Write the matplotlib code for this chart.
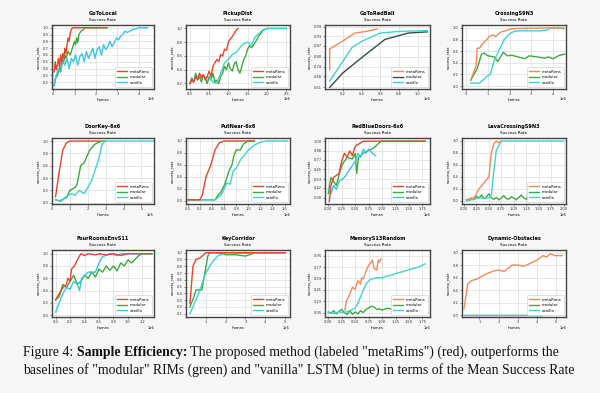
import matplotlib
matplotlib.use("Agg")
import matplotlib.pyplot as plt

# ---- data ----
titles = ["GoToLocal", "PickupDist", "GoToRedBall", "CrossingS9N3",
          "DoorKey-6x6", "PutNear-6x6", "RedBlueDoors-6x6", "LavaCrossingS9N3",
          "FourRoomsEnvS11", "KeyCorridor", "MemoryS13Random", "Dynamic-Obstacles"]
labels = ["metaRims", "modular", "vanilla"]

# GoToLocal
p1_meta_x = [0.05, 0.1, 0.15, 0.2, 0.25, 0.3, 0.35, 0.4, 0.45, 0.5, 0.55, 0.6, 0.65, 0.7, 0.75, 0.8, 0.85, 0.9, 1.0, 1.2, 1.5, 2.0, 2.5]
p1_meta_y = [0.35, 0.5, 0.38, 0.45, 0.55, 0.42, 0.6, 0.5, 0.62, 0.55, 0.7, 0.62, 0.75, 0.85, 0.8, 0.93, 0.97, 1.0, 1.0, 1.0, 1.0, 1.0, 1.0]
p1_mod_x = [0.05, 0.1, 0.2, 0.3, 0.35, 0.4, 0.5, 0.55, 0.6, 0.7, 0.8, 0.9, 1.0, 1.05, 1.1, 1.15, 1.2, 1.3, 1.4, 1.5, 1.7, 2.0, 2.5]
p1_mod_y = [0.15, 0.25, 0.3, 0.4, 0.35, 0.55, 0.5, 0.6, 0.55, 0.65, 0.6, 0.7, 0.8, 0.75, 0.85, 0.78, 0.9, 0.95, 0.97, 1.0, 1.0, 1.0, 1.0]
p1_van_x = [0.05, 0.15, 0.25, 0.35, 0.45, 0.55, 0.65, 0.75, 0.85, 0.95, 1.05, 1.15, 1.25, 1.35, 1.45, 1.55, 1.65, 1.75, 1.85, 1.95,
            2.05, 2.15, 2.25, 2.35, 2.45, 2.55, 2.65, 2.75, 2.85, 2.95, 3.05, 3.15, 3.25, 3.35, 3.45, 3.7, 4.0, 4.4]
p1_van_y = [0.15, 0.3, 0.4, 0.35, 0.5, 0.45, 0.55, 0.4, 0.55, 0.5, 0.6, 0.45, 0.58, 0.62, 0.5, 0.65, 0.55, 0.62, 0.7, 0.55,
            0.68, 0.72, 0.6, 0.75, 0.68, 0.72, 0.8, 0.72, 0.78, 0.85, 0.82, 0.88, 0.9, 0.95, 0.93, 0.97, 1.0, 1.0]

# PickupDist
p2_meta_x = [0.0, 0.05, 0.1, 0.15, 0.2, 0.25, 0.3, 0.35, 0.4, 0.45, 0.5, 0.55, 0.6, 0.65, 0.7, 0.75, 0.8, 0.85, 0.9, 0.95, 1.0, 1.05, 1.1, 1.15, 1.2, 1.25]
p2_meta_y = [0.2, 0.25, 0.22, 0.3, 0.26, 0.35, 0.28, 0.33, 0.25, 0.3, 0.38, 0.3, 0.45, 0.5, 0.55, 0.52, 0.62, 0.6, 0.7, 0.68, 0.8, 0.85, 0.88, 0.93, 0.97, 1.0]
p2_mod_x = [0.0, 0.05, 0.1, 0.15, 0.2, 0.25, 0.3, 0.35, 0.4, 0.45, 0.5, 0.55, 0.6, 0.65, 0.7, 0.75, 0.8, 0.85, 0.9, 0.95,
            1.0, 1.05, 1.1, 1.15, 1.2, 1.25, 1.3, 1.35, 1.4, 1.45, 1.5, 1.55, 1.6, 1.7, 1.8, 1.9, 2.0, 2.2, 2.5]
p2_mod_y = [0.2, 0.28, 0.22, 0.35, 0.25, 0.3, 0.22, 0.32, 0.28, 0.2, 0.3, 0.25, 0.35, 0.22, 0.25, 0.2, 0.3, 0.35, 0.45, 0.4,
            0.5, 0.42, 0.38, 0.48, 0.52, 0.4, 0.35, 0.45, 0.55, 0.6, 0.7, 0.75, 0.72, 0.8, 0.9, 0.97, 1.0, 1.0, 1.0]
p2_van_x = [0.0, 0.1, 0.2, 0.3, 0.4, 0.5, 0.6, 0.7, 0.8, 0.9, 1.0, 1.1, 1.2, 1.3, 1.4, 1.5, 1.6, 1.7, 1.8, 1.9, 2.0, 2.2, 2.5]
p2_van_y = [0.2, 0.25, 0.3, 0.32, 0.28, 0.3, 0.22, 0.2, 0.35, 0.5, 0.55, 0.62, 0.65, 0.72, 0.78, 0.8, 0.76, 0.88, 0.93, 0.98, 1.0, 1.0, 1.0]

# GoToRedBall
p3_meta_x = [0.06, 0.06, 0.2, 0.33, 0.45, 0.57]
p3_meta_y = [0.72, 0.85, 0.9, 0.95, 0.96, 0.975]
p3_mod_x = [0.06, 0.2, 0.41, 0.65, 0.9, 1.1]
p3_mod_y = [0.61, 0.7, 0.80, 0.91, 0.95, 0.957]
p3_van_x = [0.06, 0.3, 0.41, 0.6, 0.8, 1.1]
p3_van_y = [0.65, 0.86, 0.90, 0.95, 0.96, 0.965]

# CrossingS9N3
p4_meta_x = [0.2, 0.45, 0.5, 0.6, 0.8, 0.95, 1.05, 1.25, 1.35, 1.6, 1.9, 2.0, 2.3, 3.8, 4.5]
p4_meta_y = [0.1, 0.35, 0.65, 0.65, 0.75, 0.8, 0.85, 0.88, 0.85, 0.93, 0.96, 0.98, 0.99, 1.0, 0.99]
p4_mod_x = [0.2, 0.5, 0.7, 0.8, 1.0, 1.3, 1.45, 1.7, 1.9, 2.1, 2.4, 2.7, 2.9, 3.3, 3.6, 3.8, 4.0, 4.3, 4.55]
p4_mod_y = [0.1, 0.3, 0.55, 0.57, 0.52, 0.5, 0.42, 0.58, 0.52, 0.53, 0.5, 0.47, 0.52, 0.5, 0.48, 0.5, 0.47, 0.53, 0.55]
p4_van_x = [0.2, 0.6, 0.9, 1.1, 1.3, 1.55, 1.75, 2.0, 2.2, 2.5, 3.4, 3.7, 3.9, 4.5]
p4_van_y = [0.05, 0.05, 0.15, 0.2, 0.45, 0.65, 0.8, 0.9, 0.94, 0.95, 0.95, 0.96, 1.0, 1.0]

# DoorKey
p5_meta_x = [0.2, 0.4, 0.6, 0.8, 1.0, 2.7]
p5_meta_y = [0.1, 0.5, 0.85, 0.97, 1.0, 1.0]
p5_mod_x = [0.2, 0.4, 0.8, 1.0, 1.3, 1.4, 1.6, 1.8, 2.1, 2.4, 2.6, 2.8, 3.0]
p5_mod_y = [0.05, 0.03, 0.08, 0.2, 0.25, 0.3, 0.6, 0.65, 0.85, 0.95, 0.98, 1.0, 1.0]
p5_van_x = [0.2, 0.5, 0.8, 1.1, 1.3, 1.5, 1.8, 2.2, 2.6, 2.8, 3.0, 5.7]
p5_van_y = [0.05, 0.02, 0.1, 0.15, 0.12, 0.2, 0.15, 0.35, 0.7, 0.95, 1.0, 1.0]

# PutNear
p6_meta_x = [0.0, 0.2, 0.24, 0.3, 0.38, 0.45, 0.52, 0.6, 1.1]
p6_meta_y = [0.02, 0.02, 0.1, 0.4, 0.6, 0.85, 0.97, 1.0, 1.0]
p6_mod_x = [0.0, 0.45, 0.5, 0.55, 0.62, 0.68, 0.73, 0.76, 0.8, 0.87, 0.92, 1.0, 1.1]
p6_mod_y = [0.02, 0.02, 0.1, 0.15, 0.3, 0.5, 0.6, 0.75, 0.85, 0.85, 0.95, 1.0, 1.0]
p6_van_x = [0.0, 0.45, 0.55, 0.6, 0.65, 0.7, 0.75, 0.8, 0.88, 0.95, 1.0, 1.1, 1.2, 1.3, 1.65]
p6_van_y = [0.02, 0.02, 0.1, 0.2, 0.3, 0.28, 0.5, 0.55, 0.7, 0.78, 0.85, 0.93, 0.98, 1.0, 1.0]

# RedBlueDoors
p7_meta_x = [0.02, 0.05, 0.1, 0.2, 0.25, 0.3, 0.35, 0.4, 0.45, 0.48, 0.52, 0.58, 0.65, 1.8]
p7_meta_y = [0.25, 0.45, 0.55, 0.6, 0.75, 0.85, 0.8, 0.88, 0.82, 0.9, 0.95, 0.97, 1.0, 1.0]
p7_mod_x = [0.0, 0.05, 0.1, 0.15, 0.25, 0.35, 0.45, 0.5, 0.53, 0.56, 0.65, 0.7, 0.8, 0.85, 0.9, 0.98, 1.8]
p7_mod_y = [0.35, 0.55, 0.5, 0.45, 0.7, 0.8, 0.78, 0.85, 0.6, 0.8, 0.85, 0.87, 0.9, 0.92, 0.95, 1.0, 1.0]
p7_van_x = [0.0, 0.05, 0.1, 0.15, 0.2, 0.3, 0.35, 0.4, 0.5, 0.55, 0.6, 0.65, 0.7, 0.75, 0.82, 0.88]
p7_van_y = [0.4, 0.35, 0.45, 0.4, 0.5, 0.55, 0.6, 0.65, 0.75, 0.85, 0.8, 0.9, 0.85, 0.9, 0.85, 0.82]

# LavaCrossing
p8_meta_x = [0.05, 0.2, 0.3, 0.35, 0.4, 0.45, 0.5, 0.55, 0.6, 0.65, 0.7, 0.75]
p8_meta_y = [0.02, 0.05, 0.2, 0.25, 0.3, 0.35, 0.4, 0.8, 0.95, 1.0, 0.97, 1.0]
p8_mod_x = [0.05, 0.1, 0.15, 0.2, 0.25, 0.3, 0.35, 0.4, 0.45, 0.5, 0.55, 0.6, 0.65, 0.7, 0.75, 0.8,
            0.85, 0.9, 0.95, 1.0, 1.05, 1.1, 1.15, 1.2, 1.25, 1.3, 1.35, 1.4, 1.45, 1.5, 1.55, 1.6]
p8_mod_y = [0.02, 0.03, 0.05, 0.02, 0.08, 0.05, 0.1, 0.04, 0.07, 0.12, 0.05, 0.03, 0.06, 0.02, 0.05, 0.09,
            0.04, 0.03, 0.07, 0.05, 0.02, 0.06, 0.1, 0.05, 0.03, 0.08, 0.13, 0.05, 0.09, 0.2, 0.12, 0.16]
p8_van_x = [0.05, 0.3, 0.5, 0.55, 0.6, 0.65, 0.75, 2.0]
p8_van_y = [0.0, 0.05, 0.05, 0.1, 0.5, 0.85, 1.0, 1.0]

# FourRooms
p9_meta_x = [0.0, 0.05, 0.1, 0.15, 0.17, 0.2, 0.22, 0.26, 0.3, 0.35, 0.4, 0.45, 0.55, 0.6, 0.7, 0.8, 0.9, 1.0, 1.33]
p9_meta_y = [0.25, 0.35, 0.45, 0.5, 0.6, 0.55, 0.75, 0.8, 0.9, 1.0, 0.97, 1.0, 0.98, 1.0, 0.98, 1.0, 0.97, 1.0, 1.0]
p9_mod_x = [0.0, 0.05, 0.1, 0.15, 0.2, 0.25, 0.3, 0.35, 0.4, 0.45, 0.5, 0.55, 0.6, 0.65, 0.7, 0.75, 0.8,
            0.85, 0.9, 0.95, 1.0, 1.05, 1.15, 1.2, 1.33]
p9_mod_y = [0.25, 0.3, 0.5, 0.45, 0.55, 0.65, 0.5, 0.55, 0.65, 0.6, 0.7, 0.62, 0.75, 0.7, 0.8, 0.73, 0.8,
            0.72, 0.85, 0.8, 0.9, 0.85, 0.97, 1.0, 1.0]
p9_van_x = [0.0, 0.05, 0.1, 0.15, 0.2, 0.25, 0.3, 0.33, 0.36, 0.45, 0.55, 0.6, 0.65, 0.75, 0.85, 0.9, 1.33]
p9_van_y = [0.05, 0.2, 0.35, 0.45, 0.42, 0.55, 0.5, 0.4, 0.6, 0.7, 0.7, 0.85, 0.95, 1.0, 0.97, 1.0, 1.0]

# KeyCorridor
p10_meta_x = [0.2, 0.35, 0.5, 0.7, 1.0, 5.0]
p10_meta_y = [0.25, 0.8, 0.9, 0.92, 1.0, 1.0]
p10_mod_x = [0.2, 0.4, 0.5, 0.8, 0.95, 1.1, 1.2, 1.6, 2.0, 2.5, 3.0, 3.3, 3.5, 5.0]
p10_mod_y = [0.2, 0.35, 0.45, 0.45, 0.7, 0.95, 1.0, 1.0, 0.97, 0.97, 0.95, 0.98, 1.0, 1.0]
p10_van_x = [0.2, 0.5, 0.7, 1.0, 1.3, 1.6, 2.0, 3.0, 3.5, 5.0]
p10_van_y = [0.1, 0.3, 0.45, 0.7, 0.85, 0.95, 1.0, 0.99, 1.0, 1.0]

# MemoryS13Random
p11_meta_x = [0.31, 0.34, 0.38, 0.45, 0.5, 0.55, 0.6, 0.62, 0.65, 0.7, 0.75, 0.8, 0.82, 0.85, 0.9, 0.93, 0.95, 0.98]
p11_meta_y = [0.09, 0.25, 0.3, 0.45, 0.42, 0.55, 0.5, 0.6, 0.58, 0.7, 0.8, 0.85, 0.88, 0.75, 0.72, 0.88, 0.85, 0.9]
p11_mod_x = [0.0, 0.05, 0.1, 0.15, 0.2, 0.25, 0.3, 0.35, 0.4, 0.45, 0.5, 0.55, 0.6, 0.65, 0.7, 0.75, 0.8,
             0.85, 0.9, 0.95, 1.0, 1.1, 1.2, 1.3, 1.35]
p11_mod_y = [0.06, 0.04, 0.08, 0.03, 0.07, 0.1, 0.05, 0.02, 0.08, 0.02, 0.06, 0.03, 0.08, 0.05, 0.1, 0.12, 0.15,
             0.14, 0.1, 0.11, 0.09, 0.12, 0.1, 0.13, 0.12]
p11_van_x = [0.0, 0.1, 0.2, 0.3, 0.4, 0.5, 0.55, 0.6, 0.65, 0.7, 0.75, 0.8, 0.9, 1.0, 1.1, 1.2, 1.3, 1.4, 1.5, 1.6, 1.7, 1.8]
p11_van_y = [0.05, 0.04, 0.06, 0.05, 0.08, 0.12, 0.2, 0.3, 0.4, 0.5, 0.55, 0.58, 0.6, 0.6, 0.63, 0.65, 0.68, 0.7, 0.73, 0.75, 0.78, 0.82]

# Dynamic-Obstacles
p12_meta_x = [0.2, 0.4, 0.6, 0.9, 1.3, 1.7, 2.0, 2.3, 2.7, 3.0, 3.3, 3.6, 4.0, 4.3, 4.5, 4.7, 4.9, 5.3]
p12_meta_y = [0.1, 0.5, 0.55, 0.58, 0.65, 0.7, 0.72, 0.7, 0.8, 0.8, 0.78, 0.82, 0.88, 0.95, 0.93, 0.98, 0.95, 0.95]
p12_mod_x = [0.2, 4.2]
p12_mod_y = [0.0, 0.0]
p12_van_x = [0.2, 4.2]
p12_van_y = [0.0, 0.0]

series = [
    (p1_meta_x, p1_meta_y, p1_mod_x, p1_mod_y, p1_van_x, p1_van_y),
    (p2_meta_x, p2_meta_y, p2_mod_x, p2_mod_y, p2_van_x, p2_van_y),
    (p3_meta_x, p3_meta_y, p3_mod_x, p3_mod_y, p3_van_x, p3_van_y),
    (p4_meta_x, p4_meta_y, p4_mod_x, p4_mod_y, p4_van_x, p4_van_y),
    (p5_meta_x, p5_meta_y, p5_mod_x, p5_mod_y, p5_van_x, p5_van_y),
    (p6_meta_x, p6_meta_y, p6_mod_x, p6_mod_y, p6_van_x, p6_van_y),
    (p7_meta_x, p7_meta_y, p7_mod_x, p7_mod_y, p7_van_x, p7_van_y),
    (p8_meta_x, p8_meta_y, p8_mod_x, p8_mod_y, p8_van_x, p8_van_y),
    (p9_meta_x, p9_meta_y, p9_mod_x, p9_mod_y, p9_van_x, p9_van_y),
    (p10_meta_x, p10_meta_y, p10_mod_x, p10_mod_y, p10_van_x, p10_van_y),
    (p11_meta_x, p11_meta_y, p11_mod_x, p11_mod_y, p11_van_x, p11_van_y),
    (p12_meta_x, p12_meta_y, p12_mod_x, p12_mod_y, p12_van_x, p12_van_y),
]

# ---- per-panel style ----
RED, ORANGE = "#e8452c", "#f08a5a"
GREEN, DARK = "#3ea83e", "#2f4f4f"
CYAN, TURQ = "#38c4ea", "#40d2d0"
colors = [
    (RED, GREEN, CYAN), (RED, GREEN, TURQ), (ORANGE, DARK, TURQ), (ORANGE, GREEN, TURQ),
    (RED, GREEN, TURQ), (RED, GREEN, TURQ), (RED, GREEN, CYAN), (ORANGE, GREEN, TURQ),
    (RED, GREEN, CYAN), (RED, GREEN, TURQ), (ORANGE, GREEN, TURQ), (ORANGE, GREEN, TURQ),
]
xlims = [(-0.05, 4.7), (-0.1, 2.6), (0.01, 1.13), (-0.2, 4.6),
         (0.0, 5.7), (-0.03, 1.69), (-0.06, 1.89), (-0.04, 2.05),
         (-0.05, 1.36), (0.0, 5.25), (-0.06, 1.89), (0.1, 5.5)]
xticks = [[0, 1, 2, 3, 4], [0.0, 0.5, 1.0, 1.5, 2.0, 2.5], [0.2, 0.4, 0.6, 0.8, 1.0], [0, 1, 2, 3, 4],
          [0, 1, 2, 3, 4, 5], [0.0, 0.2, 0.4, 0.6, 0.8, 1.0, 1.2, 1.4, 1.6],
          [0.0, 0.25, 0.5, 0.75, 1.0, 1.25, 1.5, 1.75], [0.0, 0.25, 0.5, 0.75, 1.0, 1.25, 1.5, 1.75, 2.0],
          [0.0, 0.2, 0.4, 0.6, 0.8, 1.0, 1.2], [1, 2, 3, 4, 5],
          [0.0, 0.25, 0.5, 0.75, 1.0, 1.25, 1.5, 1.75], [1, 2, 3, 4, 5]]
ylims = [(0.1, 1.04), (0.12, 1.05), (0.6, 1.0), (-0.05, 1.05),
         (-0.02, 1.05), (-0.05, 1.05), (0.22, 1.04), (-0.05, 1.05),
         (-0.03, 1.06), (0.05, 1.04), (-0.02, 1.04), (-0.03, 1.04)]
yticks = [[0.2, 0.3, 0.4, 0.5, 0.6, 0.7, 0.8, 0.9, 1.0], [0.2, 0.4, 0.6, 0.8, 1.0],
          [0.61, 0.68, 0.74, 0.80, 0.87, 0.93, 0.99], [0.0, 0.2, 0.4, 0.6, 0.8, 1.0],
          [0.0, 0.2, 0.4, 0.6, 0.8, 1.0], [0.0, 0.2, 0.4, 0.6, 0.8, 1.0],
          [0.30, 0.42, 0.53, 0.65, 0.77, 0.88, 1.00], [0.0, 0.2, 0.4, 0.6, 0.8, 1.0],
          [0.0, 0.2, 0.4, 0.6, 0.8, 1.0], [0.1, 0.2, 0.3, 0.4, 0.5, 0.6, 0.7, 0.8, 0.9, 1.0],
          [0.05, 0.23, 0.41, 0.59, 0.77, 0.95], [0.0, 0.2, 0.4, 0.6, 0.8, 1.0]]
offsets = ["1e6", "1e6", "1e6", "1e6", "1e5", "1e6", "1e6", "1e6", "1e6", "1e5", "1e6", "1e6"]

W, H = 600, 393
col_px = [(52, 154), (186, 290), (325, 430), (462, 566)]
row_px = [(25, 89), (138, 204), (250, 317)]

fig = plt.figure(figsize=(6, 3.93), dpi=100, facecolor="#f6f6f6")

for i in range(12):
    r, c = divmod(i, 4)
    l, rr = col_px[c]
    t, b = row_px[r]
    ax = fig.add_axes([l / W, 1 - b / H, (rr - l) / W, (b - t) / H])
    ax.set_facecolor("white")
    mx, my, gx, gy, vx, vy = series[i]
    cm, cg, cv = colors[i]
    ax.plot(mx, my, color=cm, lw=1.0, label=labels[0], zorder=3)
    ax.plot(gx, gy, color=cg, lw=1.0, label=labels[1], zorder=2)
    ax.plot(vx, vy, color=cv, lw=1.0, label=labels[2], zorder=2)
    ax.set_xlim(*xlims[i])
    ax.set_ylim(*ylims[i])
    ax.set_xticks(xticks[i])
    ax.set_yticks(yticks[i])
    if i in (2, 6, 10):
        ax.set_yticklabels([f"{v:.2f}" for v in yticks[i]])
    ax.tick_params(labelsize=2.6, length=1.5, width=0.4, pad=1, colors="#333333")
    ax.grid(True, color="#dddddd", lw=0.5)
    for s in ax.spines.values():
        s.set_color("#444444")
        s.set_linewidth(1.0)
    ax.set_title(titles[i], fontsize=3.6, fontweight="bold", pad=7)
    ax.text(0.5, 1.04, "Success Rate", transform=ax.transAxes, ha="center",
            va="bottom", fontsize=3.0)
    ax.set_xlabel("frames", fontsize=2.6, labelpad=1)
    ax.set_ylabel("success_rate", fontsize=2.6, labelpad=1)
    ax.text(1.0, -0.13, offsets[i], transform=ax.transAxes, ha="right",
            va="top", fontsize=2.6)
    leg = ax.legend(loc="lower right", fontsize=2.8, handlelength=2.5,
                    borderpad=0.6, labelspacing=0.4, framealpha=1)
    leg.get_frame().set_linewidth(0.4)

# ---- caption, with a bold run in the first line ----
cap_font = dict(fontsize=9.95, family="Liberation Serif", color="#111111", va="baseline")
fig.canvas.draw()
renderer = fig.canvas.get_renderer()


def run_text(x_px, y_px, parts):
    for txt, weight in parts:
        t = fig.text(x_px / W, 1 - y_px / H, txt, fontweight=weight, **cap_font)
        ext = t.get_window_extent(renderer)
        x_px += ext.width


run_text(23, 356, [("Figure 4: ", "normal"), ("Sample Efficiency:", "bold"),
                   (' The proposed method (labeled "metaRims") (red), outperforms the', "normal")])
run_text(23, 374, [('baselines of "modular" RIMs (green) and "vanilla" LSTM (blue) in terms of the Mean Success Rate', "normal")])

fig.savefig("out.png", dpi=100, facecolor=fig.get_facecolor())
